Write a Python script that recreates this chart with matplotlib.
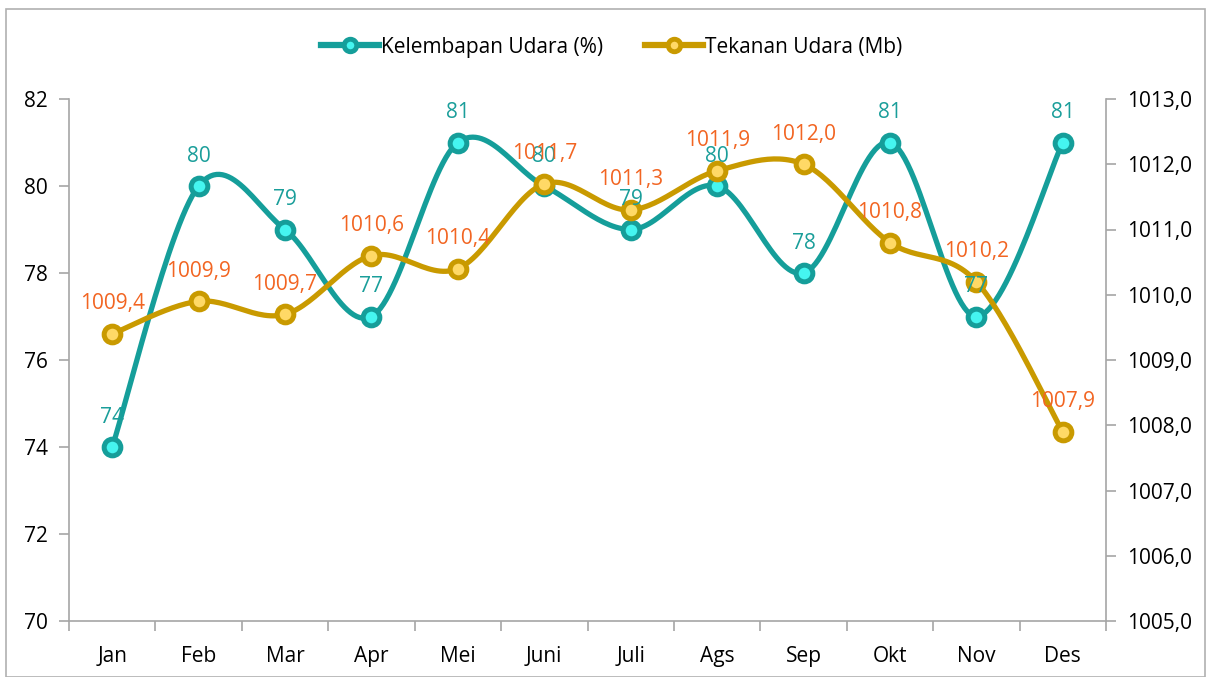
import numpy as np
import matplotlib
matplotlib.use("Agg")
import matplotlib.pyplot as plt
from matplotlib.lines import Line2D
from matplotlib.patches import Rectangle

plt.rcParams['font.family'] = ['Open Sans', 'DejaVu Sans']

# data
bulan = ["Jan", "Feb", "Mar", "Apr", "Mei", "Juni", "Juli", "Ags", "Sep", "Okt", "Nov", "Des"]
kelembapan = [74, 80, 79, 77, 81, 80, 79, 80, 78, 81, 77, 81]
tekanan = [1009.4, 1009.9, 1009.7, 1010.6, 1010.4, 1011.7, 1011.3, 1011.9, 1012.0, 1010.8, 1010.2, 1007.9]

teal = "#159e9a"
teal_fill = "#45f5f0"
teal_txt = "#1a9e9a"
gold = "#c99a00"
gold_fill = "#ffd966"
orange_txt = "#f26522"
grey = "#a6a6a6"
fs = 15


def smooth(x, y, n=30):
    # bezier ala excel (catmull-rom) hanya untuk gambar garis
    x = np.asarray(x, float)
    y = np.asarray(y, float)
    P = np.column_stack([x, y])
    out = []
    for i in range(len(P) - 1):
        p0 = P[i - 1] if i > 0 else P[i]
        p1 = P[i]
        p2 = P[i + 1]
        p3 = P[i + 2] if i + 2 < len(P) else P[i + 1]
        c1 = p1 + (p2 - p0) / 6
        c2 = p2 - (p3 - p1) / 6
        t = np.linspace(0, 1, n)[:, None]
        seg = (1 - t) ** 3 * p1 + 3 * (1 - t) ** 2 * t * c1 + 3 * (1 - t) * t ** 2 * c2 + t ** 3 * p2
        out.append(seg if i == 0 else seg[1:])
    out = np.vstack(out)
    return out[:, 0], out[:, 1]


fig = plt.figure(figsize=(12.11, 6.77), dpi=100)
fig.patches.append(Rectangle((6 / 1211, 0), 1199 / 1211, 1 - 9 / 677, transform=fig.transFigure,
                             fill=False, edgecolor="#b0b0b0", linewidth=1.2))
ax = fig.add_axes([69 / 1211, 1 - 621 / 677, (1106 - 69) / 1211, (621 - 99) / 677])
ax2 = ax.twinx()

x = np.arange(len(bulan))
ms = 12
mew = 3.6
lw = 3.8

sx, sy = smooth(x, kelembapan)
ax.plot(sx, sy, color=teal, lw=lw, solid_capstyle='round', zorder=2)
ax.plot(x, kelembapan, 'o', ms=ms, mfc=teal_fill, mec=teal, mew=mew, zorder=3)

sx2, sy2 = smooth(x, tekanan)
ax2.plot(sx2, sy2, color=gold, lw=lw, solid_capstyle='round', zorder=2)
ax2.plot(x, tekanan, 'o', ms=ms, mfc=gold_fill, mec=gold, mew=mew, zorder=3)

# semua label di ax2 supaya di atas kedua garis
off = 14
for i, v in enumerate(kelembapan):
    ax2.annotate(str(v), (x[i], v), xycoords=ax.transData, xytext=(0, off), textcoords='offset points',
                 ha='center', va='bottom', fontsize=fs, color=teal_txt, zorder=5)
for i, v in enumerate(tekanan):
    ax2.annotate(f"{v:.1f}".replace(".", ","), (x[i], v), xytext=(0, off), textcoords='offset points',
                 ha='center', va='bottom', fontsize=fs, color=orange_txt, zorder=6)

ax.set_xlim(-0.5, len(bulan) - 0.5)
ax.set_ylim(70, 82)
ax.set_yticks(np.arange(70, 83, 2))
ax2.set_ylim(1005, 1013)
ax2.set_yticks(np.arange(1005, 1014, 1))
ax2.set_yticklabels([f"{t:.1f}".replace(".", ",") for t in np.arange(1005, 1014, 1)])

ax.set_xticks(x)
ax.set_xticklabels(bulan)
ax.set_xticks(np.arange(-0.5, len(bulan), 1), minor=True)
ax.tick_params(axis='x', which='major', length=0, pad=18, labelsize=fs)
ax.tick_params(axis='x', which='minor', length=7, color=grey, width=1.2, direction='out')
ax.tick_params(axis='y', length=7, color=grey, width=1.2, labelsize=fs, pad=8)
ax2.tick_params(axis='y', length=7, color=grey, width=1.2, labelsize=fs, pad=8)

for a in (ax, ax2):
    a.spines['top'].set_visible(False)
    for s in ('left', 'right', 'bottom'):
        a.spines[s].set_color(grey)
        a.spines[s].set_linewidth(1.2)
ax.spines['right'].set_visible(False)
ax2.spines['left'].set_visible(False)
ax2.spines['bottom'].set_visible(False)

ax.set_zorder(1)
ax2.set_zorder(2)
ax.patch.set_visible(False)
ax2.patch.set_visible(False)

h1 = Line2D([], [], color=teal, lw=4.5, marker='o', ms=9, mfc=teal_fill, mec=teal, mew=3.5)
h2 = Line2D([], [], color=gold, lw=4.5, marker='o', ms=9, mfc=gold_fill, mec=gold, mew=3.5)
fig.legend([h1, h2], ["Kelembapan Udara (%)", "Tekanan Udara (Mb)"], loc='center',
           bbox_to_anchor=(0.505, 1 - 47 / 677), ncol=2, frameon=False, fontsize=fs,
           handlelength=2.8, handletextpad=0.1, columnspacing=2.0)

fig.savefig("out.png", dpi=100)
